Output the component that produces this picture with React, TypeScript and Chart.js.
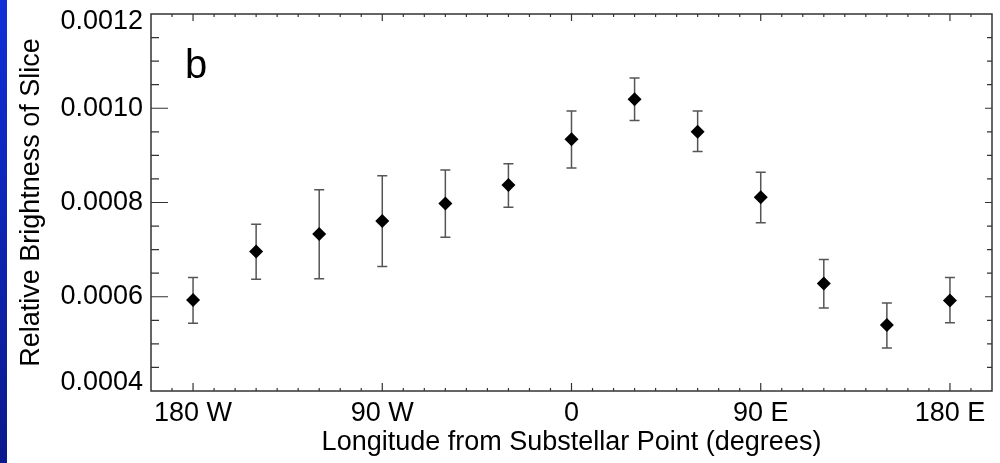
import React, { useEffect, useRef } from "react";
import { Chart, registerables } from "chart.js";

Chart.register(...registerables);

// ---- data ----
const longitudes = [-180, -150, -120, -90, -60, -30, 0, 30, 60, 90, 120, 150, 180];
const brightness = [0.000593, 0.000696, 0.000733, 0.000761, 0.000798, 0.000837, 0.000934, 0.001019, 0.00095, 0.000811, 0.000628, 0.00054, 0.000592];
const errHigh = [0.000641, 0.000754, 0.000827, 0.000857, 0.000869, 0.000882, 0.000994, 0.001064, 0.000994, 0.000864, 0.000679, 0.000587, 0.000641];
const errLow = [0.000544, 0.000637, 0.000638, 0.000664, 0.000726, 0.00079, 0.000873, 0.000974, 0.000908, 0.000757, 0.000576, 0.000491, 0.000545];

const xTickValues = [-180, -90, 0, 90, 180];
const xTickLabels = ["180 W", "90 W", "0", "90 E", "180 E"];
const yTickValues = [0.0004, 0.0006, 0.0008, 0.001, 0.0012];
const yTickLabels = ["0.0004", "0.0006", "0.0008", "0.0010", "0.0012"];
const xTitle = "Longitude from Substellar Point (degrees)";
const yTitle = "Relative Brightness of Slice";
const panelLabel = "b";

const X_MIN = -200;
const X_MAX = 200;
const Y_MIN = 0.0004;
const Y_MAX = 0.0012;
const X_MINOR_STEP = 10;
const Y_MINOR_STEP = 0.00005;

const FONT = "'Liberation Sans', Arial, Helvetica, sans-serif";
const FONT_SIZE = 27;

const nearIndex = (arr: number[], v: number) => {
  let best = -1;
  let bd = Infinity;
  arr.forEach((a, i) => {
    const d = Math.abs(a - v);
    if (d < bd) {
      bd = d;
      best = i;
    }
  });
  return best;
};

const framePlugin = {
  id: "framePlugin",
  beforeDatasetsDraw(chart: any) {
    const { ctx, scales } = chart;
    const x = scales.x;
    const y = scales.y;
    ctx.save();
    ctx.strokeStyle = "#555";
    ctx.lineWidth = 1.5;
    longitudes.forEach((lon, i) => {
      const px = x.getPixelForValue(lon);
      const top = y.getPixelForValue(errHigh[i]);
      const bot = y.getPixelForValue(errLow[i]);
      ctx.beginPath();
      ctx.moveTo(px, top);
      ctx.lineTo(px, bot);
      ctx.moveTo(px - 5, top);
      ctx.lineTo(px + 5, top);
      ctx.moveTo(px - 5, bot);
      ctx.lineTo(px + 5, bot);
      ctx.stroke();
    });
    ctx.restore();
  },
  afterDraw(chart: any) {
    const { ctx, chartArea: a, scales } = chart;
    const x = scales.x;
    const y = scales.y;
    ctx.save();
    ctx.strokeStyle = "#333";
    ctx.lineWidth = 1.5;
    ctx.strokeRect(a.left, a.top, a.right - a.left, a.bottom - a.top);

    ctx.lineWidth = 1.2;
    ctx.beginPath();
    // x ticks (bottom & top)
    for (let v = X_MIN + X_MINOR_STEP; v < X_MAX; v += X_MINOR_STEP) {
      const major = xTickValues.some((t) => Math.abs(t - v) < 1e-9);
      const px = x.getPixelForValue(v);
      const lb = major ? 8 : 3;
      const lt = major ? 7 : 3;
      ctx.moveTo(px, a.bottom);
      ctx.lineTo(px, a.bottom - lb);
      ctx.moveTo(px, a.top);
      ctx.lineTo(px, a.top + lt);
    }
    // y ticks (left & right)
    const n = Math.round((Y_MAX - Y_MIN) / Y_MINOR_STEP);
    for (let k = 1; k < n; k++) {
      const v = Y_MIN + k * Y_MINOR_STEP;
      const major = yTickValues.some((t) => Math.abs(t - v) < 1e-9);
      const py = y.getPixelForValue(v);
      const ll = major ? 17 : 8;
      const lr = major ? 7 : 5;
      ctx.moveTo(a.left, py);
      ctx.lineTo(a.left + ll, py);
      ctx.moveTo(a.right, py);
      ctx.lineTo(a.right - lr, py);
    }
    ctx.stroke();

    ctx.fillStyle = "#000";
    ctx.font = `40px ${FONT}`;
    ctx.textAlign = "left";
    ctx.textBaseline = "alphabetic";
    ctx.fillText(panelLabel, a.left + 34, a.top + 64);
    ctx.restore();
  },
};

export default function App() {
  const canvasRef = useRef<HTMLCanvasElement | null>(null);

  useEffect(() => {
    if (!canvasRef.current) return;
    const chart = new Chart(canvasRef.current, {
      type: "scatter",
      data: {
        datasets: [
          {
            data: longitudes.map((lon, i) => ({ x: lon, y: brightness[i] })),
            pointStyle: "rectRot",
            pointRadius: 7,
            pointHoverRadius: 7,
            backgroundColor: "#000",
            borderColor: "#000",
            borderWidth: 0,
            showLine: false,
          },
        ],
      },
      options: {
        animation: false,
        responsive: false,
        events: [],
        layout: { padding: { left: 0, top: 14, right: 8, bottom: 0 } },
        plugins: {
          legend: { display: false },
          tooltip: { enabled: false },
          title: { display: false },
        },
        scales: {
          x: {
            type: "linear",
            min: X_MIN,
            max: X_MAX,
            grid: { display: false, drawTicks: false, tickLength: 0 },
            border: { display: false },
            afterBuildTicks: (scale: any) => {
              scale.ticks = xTickValues.map((v) => ({ value: v }));
            },
            afterFit: (scale: any) => {
              scale.height = 72;
              scale.paddingLeft = 0;
              scale.paddingRight = 0;
            },
            ticks: {
              color: "#000",
              padding: 6,
              maxRotation: 0,
              autoSkip: false,
              font: { family: FONT, size: FONT_SIZE },
              callback: (v: any) => xTickLabels[nearIndex(xTickValues, Number(v))],
            },
            title: {
              display: true,
              text: xTitle,
              color: "#000",
              font: { family: FONT, size: FONT_SIZE },
              padding: { top: 0, bottom: 4 },
            },
          },
          y: {
            type: "linear",
            min: Y_MIN,
            max: Y_MAX,
            grid: { display: false, drawTicks: false, tickLength: 0 },
            border: { display: false },
            afterBuildTicks: (scale: any) => {
              scale.ticks = yTickValues.map((v) => ({ value: v }));
            },
            afterFit: (scale: any) => {
              scale.width = 151;
              scale.paddingTop = 0;
              scale.paddingBottom = 0;
            },
            ticks: {
              color: "#000",
              padding: 8,
              autoSkip: false,
              font: (c: any) => {
                const i = c.index;
                const edge = i === 0 || i === yTickValues.length - 1;
                return { family: FONT, size: FONT_SIZE, lineHeight: edge ? "16px" : 1.2 };
              },
              callback: (v: any) => {
                const i = nearIndex(yTickValues, Number(v));
                const lbl = yTickLabels[i];
                if (i === yTickValues.length - 1) return ["", lbl];
                if (i === 0) return [lbl, ""];
                return lbl;
              },
            },
            title: {
              display: true,
              text: yTitle,
              color: "#000",
              font: { family: FONT, size: FONT_SIZE },
              padding: { top: 15, bottom: 0 },
            },
          },
        },
      },
      plugins: [framePlugin],
    } as any);
    return () => chart.destroy();
  }, []);

  return (
    <div style={{ position: "fixed", left: 0, top: 0, width: 1000, height: 463, background: "#fff", overflow: "hidden" }}>
      <canvas ref={canvasRef} width={1000} height={463} style={{ display: "block", width: 1000, height: 463 }} />
      <div
        style={{
          position: "absolute",
          left: 0,
          top: 0,
          width: 7,
          height: 463,
          background: "linear-gradient(to bottom, #1030d8, #0a1a8c)",
        }}
      />
    </div>
  );
}
